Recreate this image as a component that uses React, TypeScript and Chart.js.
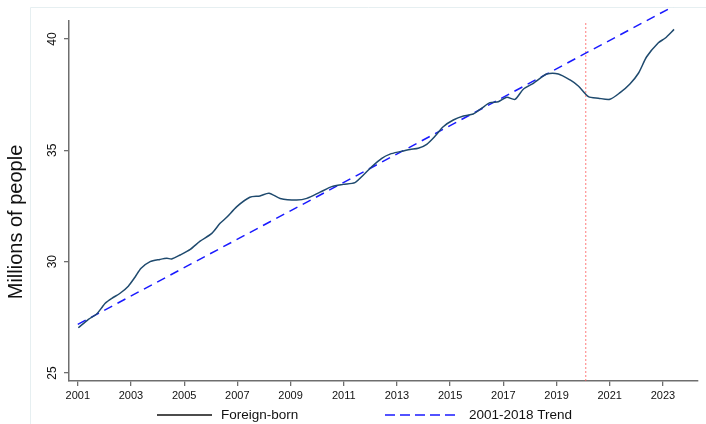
import React, { useEffect, useRef } from "react";
import { Chart, registerables } from "chart.js";

Chart.register(...registerables);

// ---- Data ----
const years = [
  2001.02, 2001.4, 2001.71, 2001.9, 2002.03, 2002.28, 2002.59, 2002.9, 2003.15, 2003.38,
  2003.72, 2004.09, 2004.35, 2004.53, 2004.85, 2005.23, 2005.6, 2006.04, 2006.35, 2006.6,
  2006.98, 2007.47, 2007.85, 2008.19, 2008.61, 2009.23, 2009.61, 2010.11, 2010.55, 2010.98,
  2011.42, 2011.74, 2012.05, 2012.43, 2012.74, 2013.11, 2013.49, 2013.8, 2014.12, 2014.43,
  2014.74, 2015.12, 2015.5, 2015.87, 2016.19, 2016.5, 2016.81, 2017.13, 2017.44, 2017.75,
  2018.13, 2018.38, 2018.63, 2019.07, 2019.51, 2019.82, 2020.2, 2020.57, 2021.01, 2021.39,
  2021.76, 2022.08, 2022.39, 2022.83, 2023.08, 2023.42,
];
const foreignBorn = [
  27.03, 27.41, 27.65, 27.93, 28.13, 28.35, 28.58, 28.9, 29.3, 29.7,
  30.0, 30.1, 30.15, 30.12, 30.3, 30.55, 30.92, 31.27, 31.72, 31.99,
  32.47, 32.89, 32.95, 33.07, 32.84, 32.77, 32.84, 33.12, 33.37, 33.47,
  33.55, 33.89, 34.26, 34.64, 34.83, 34.94, 35.04, 35.09, 35.27, 35.63,
  36.06, 36.36, 36.54, 36.63, 36.89, 37.14, 37.18, 37.38, 37.29, 37.74,
  38.01, 38.23, 38.43, 38.43, 38.16, 37.89, 37.41, 37.34, 37.29, 37.59,
  37.98, 38.46, 39.2, 39.83, 40.03, 40.43,
];
const trendYears = [2001, 2023.42];
const trendValues = [27.18, 41.48];
const markerYear = 2020.1;
const xTicks = [2001, 2003, 2005, 2007, 2009, 2011, 2013, 2015, 2017, 2019, 2021, 2023];
const yTicks = [25, 30, 35, 40];
const xRange = [2000.67, 2024.32];
const yRange = [24.64, 40.82];
const yTitle = "Millions of people";
const seriesLabels = ["Foreign-born", "2001-2018 Trend"];

const FONT = '"Liberation Sans", Arial, Helvetica, sans-serif';
const NAVY = "#1f4a6e";
const BLUE = "#1a1aff";
const AXIS = "#6e6e6e";

const overlay = {
  id: "overlay",
  beforeDraw(chart: any) {
    const ctx = chart.ctx;
    ctx.save();
    ctx.strokeStyle = "#e6eff1";
    ctx.lineWidth = 1;
    ctx.beginPath();
    ctx.moveTo(30.5, 424);
    ctx.lineTo(30.5, 7.5);
    ctx.lineTo(706, 7.5);
    ctx.stroke();
    ctx.restore();
  },
  afterDraw(chart: any) {
    const ctx = chart.ctx;
    ctx.save();
    // y-axis title
    ctx.translate(22.3, 222);
    ctx.rotate(-Math.PI / 2);
    ctx.font = `20px ${FONT}`;
    ctx.fillStyle = "#111";
    ctx.textAlign = "center";
    ctx.textBaseline = "alphabetic";
    ctx.fillText(yTitle, 0, 0);
    ctx.restore();

    // legend
    ctx.save();
    const ly = 415;
    ctx.lineWidth = 1.4;
    ctx.strokeStyle = "#111";
    ctx.beginPath();
    ctx.moveTo(157, ly);
    ctx.lineTo(212, ly);
    ctx.stroke();
    ctx.strokeStyle = BLUE;
    ctx.setLineDash([10, 5]);
    ctx.beginPath();
    ctx.moveTo(385, ly);
    ctx.lineTo(459, ly);
    ctx.stroke();
    ctx.setLineDash([]);
    ctx.font = `13.5px ${FONT}`;
    ctx.fillStyle = "#111";
    ctx.textAlign = "left";
    ctx.textBaseline = "middle";
    ctx.fillText(seriesLabels[0], 221, ly);
    ctx.fillText(seriesLabels[1], 469, ly);
    ctx.restore();
  },
};

export default function App() {
  const ref = useRef<HTMLCanvasElement | null>(null);
  useEffect(() => {
    if (!ref.current) return;
    const chart = new Chart(ref.current, {
      type: "line",
      data: {
        datasets: [
          {
            label: seriesLabels[0],
            data: years.map((x, i) => ({ x, y: foreignBorn[i] })),
            borderColor: NAVY,
            borderWidth: 1.5,
            pointRadius: 0,
            tension: 0.25,
            fill: false,
          },
          {
            label: seriesLabels[1],
            data: trendYears.map((x, i) => ({ x, y: trendValues[i] })),
            borderColor: BLUE,
            borderWidth: 1.5,
            borderDash: [9, 6],
            pointRadius: 0,
            fill: false,
            clip: { left: 10, top: 13, right: 10, bottom: 0 } as any,
          },
          {
            label: "marker",
            data: [
              { x: markerYear, y: yRange[0] },
              { x: markerYear, y: yRange[1] },
            ],
            borderColor: "rgba(255,90,90,0.8)",
            borderWidth: 1,
            borderDash: [2, 2],
            pointRadius: 0,
            fill: false,
          },
        ],
      },
      options: {
        responsive: false,
        animation: false,
        devicePixelRatio: 1,
        layout: { padding: { left: 0, top: 20.7, right: 8, bottom: 0 } },
        plugins: {
          legend: { display: false },
          tooltip: { enabled: false },
        },
        scales: {
          x: {
            type: "linear",
            min: xRange[0],
            max: xRange[1],
            afterBuildTicks: (s: any) => {
              s.ticks = xTicks.map((v) => ({ value: v }));
            },
            afterFit: (s: any) => {
              s.height = 43;
            },
            ticks: {
              autoSkip: false,
              maxRotation: 0,
              padding: 3,
              color: "#111",
              font: { family: FONT, size: 11 },
              callback: (v: any) => String(v),
            },
            grid: { drawOnChartArea: false, drawTicks: true, tickLength: 5, color: AXIS, lineWidth: 1.3 },
            border: { color: AXIS, width: 1.5 },
          },
          y: {
            type: "linear",
            min: yRange[0],
            max: yRange[1],
            afterBuildTicks: (s: any) => {
              s.ticks = yTicks.map((v) => ({ value: v }));
            },
            afterFit: (s: any) => {
              s.width = 69;
            },
            ticks: {
              minRotation: 90,
              maxRotation: 90,
              crossAlign: "center",
              padding: 5,
              color: "#111",
              font: { family: FONT, size: 12 },
              callback: (v: any) => String(v),
            },
            grid: { drawOnChartArea: false, drawTicks: true, tickLength: 5, color: AXIS, lineWidth: 1.3 },
            border: { color: AXIS, width: 1.5 },
          },
        },
      },
      plugins: [overlay],
    } as any);
    return () => chart.destroy();
  }, []);
  return (
    <div style={{ position: "absolute", left: 0, top: 0, width: 706, height: 424, background: "#fff" }}>
      <canvas ref={ref} width={706} height={424} />
    </div>
  );
}
